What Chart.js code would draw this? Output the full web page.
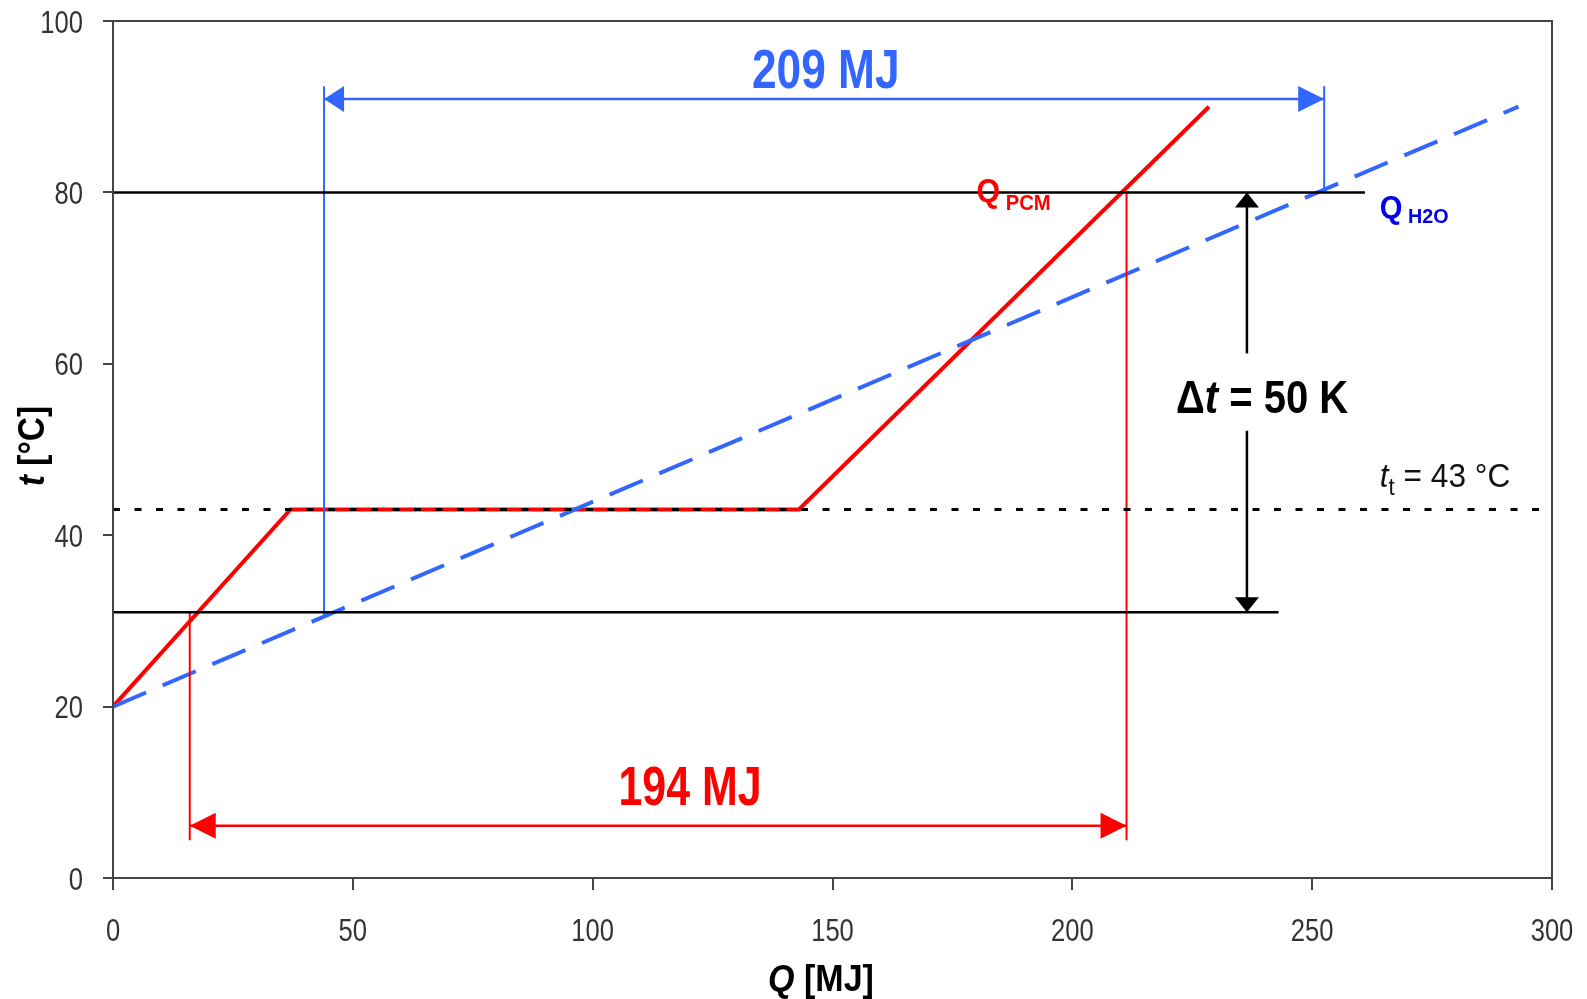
<!DOCTYPE html>
<html>
<head>
<meta charset="utf-8">
<script src="https://cdn.jsdelivr.net/npm/chart.js@4.4.0/dist/chart.umd.min.js"></script>
<style>
  html, body { margin: 0; padding: 0; background: #fff; }
</style>
</head>
<body>
<canvas id="chart" width="1587" height="999"></canvas>
<script>
// axis ticks
const xTicks = [0, 50, 100, 150, 200, 250, 300];
const yTicks = [0, 20, 40, 60, 80, 100];

// Q_PCM curve (Q in MJ, t in °C)
const pcmQ = [0, 37, 143, 228.5];
const pcmT = [20, 43, 43, 90];

// Q_H2O curve
const h2oQ = [0, 293];
const h2oT = [20, 90];

// reference temperatures
const tUpper = 80;
const tLower = 31;
const tTransition = 43;
const upperLineQ = [0, 261];
const lowerLineQ = [0, 243];

// energy spans
const pcmSpanQ = [16, 211.3];   // 194 MJ
const pcmSpanT = 6.1;
const pcmGuideBottom = 4.4;
const h2oSpanQ = [44, 252.5];   // 209 MJ
const h2oSpanT = 90.9;
const h2oGuideTop = 92.4;

// Δt arrow
const dtQ = 236.4;
const dtGap = [61.2, 52.2];

const RED = '#ff0000';
const BLUE = '#3366ff';
const DARKBLUE = '#0000ee';
const FONT = "'Liberation Sans', Arial, sans-serif";
const NARROW = 0.8; // horizontal squeeze to imitate Arial Narrow

const pts = (xs, ys) => xs.map((x, i) => ({ x: x, y: ys[i] }));
const seg = (x1, y1, x2, y2) => [{ x: x1, y: y1 }, { x: x2, y: y2 }];

function lineSet(data, color, width, dash) {
  return {
    data: data,
    borderColor: color,
    borderWidth: width,
    borderDash: dash || [],
    pointRadius: 0,
    fill: false,
    tension: 0,
    borderCapStyle: 'butt'
  };
}

const datasets = [
  lineSet(seg(0, tTransition, 300, tTransition), '#000', 3, [7, 14.5]),
  lineSet(seg(upperLineQ[0], tUpper, upperLineQ[1], tUpper), '#000', 2.5),
  lineSet(seg(lowerLineQ[0], tLower, lowerLineQ[1], tLower), '#000', 2.5),
  // red guides and span
  lineSet(seg(pcmSpanQ[0], tLower, pcmSpanQ[0], pcmGuideBottom), RED, 2),
  lineSet(seg(pcmSpanQ[1], tUpper, pcmSpanQ[1], pcmGuideBottom), RED, 2),
  lineSet(seg(pcmSpanQ[0], pcmSpanT, pcmSpanQ[1], pcmSpanT), RED, 2.5),
  // blue guides and span
  lineSet(seg(h2oSpanQ[0], 30.5, h2oSpanQ[0], h2oGuideTop), BLUE, 2),
  lineSet(seg(h2oSpanQ[1], tUpper, h2oSpanQ[1], h2oGuideTop), BLUE, 2),
  lineSet(seg(h2oSpanQ[0], h2oSpanT, h2oSpanQ[1], h2oSpanT), BLUE, 2.5),
  // Δt arrow shafts
  lineSet(seg(dtQ, tUpper, dtQ, dtGap[0]), '#000', 2.5),
  lineSet(seg(dtQ, dtGap[1], dtQ, tLower), '#000', 2.5),
  // curves
  lineSet(pts(h2oQ, h2oT), BLUE, 4, [36, 18]),
  lineSet(pts(pcmQ, pcmT), RED, 4)
];

function tri(ctx, x, y, dir, len, half, color) {
  ctx.save();
  ctx.fillStyle = color;
  ctx.beginPath();
  ctx.moveTo(x, y);
  if (dir === 'left') { ctx.lineTo(x + len, y - half); ctx.lineTo(x + len, y + half); }
  if (dir === 'right') { ctx.lineTo(x - len, y - half); ctx.lineTo(x - len, y + half); }
  if (dir === 'up') { ctx.lineTo(x - half, y + len); ctx.lineTo(x + half, y + len); }
  if (dir === 'down') { ctx.lineTo(x - half, y - len); ctx.lineTo(x + half, y - len); }
  ctx.closePath();
  ctx.fill();
  ctx.restore();
}

function runsWidth(ctx, pieces) {
  let w = 0;
  ctx.save();
  pieces.forEach(p => { ctx.font = p[1] + 'px ' + FONT; w += ctx.measureText(p[0]).width; });
  ctx.restore();
  return w;
}

// draws [text, font, dy] pieces one after another, squeezed horizontally
// align: 'left' | 'center' | 'right'
function runs(ctx, x, y, pieces, color, align, sx) {
  sx = sx || NARROW;
  const w = runsWidth(ctx, pieces) * sx;
  let x0 = x;
  if (align === 'center') x0 = x - w / 2;
  if (align === 'right') x0 = x - w;
  ctx.save();
  ctx.translate(x0, y);
  ctx.scale(sx, 1);
  ctx.fillStyle = color;
  ctx.textBaseline = 'alphabetic';
  ctx.textAlign = 'left';
  let cx = 0;
  pieces.forEach(p => {
    ctx.font = p[1] + 'px ' + FONT;
    ctx.fillText(p[0], cx, p[2] || 0);
    cx += ctx.measureText(p[0]).width;
  });
  ctx.restore();
}

const decor = {
  id: 'decor',
  afterDatasetsDraw(chart) {
    const ctx = chart.ctx;
    const xs = chart.scales.x, ys = chart.scales.y;
    const X = v => xs.getPixelForValue(v);
    const Y = v => ys.getPixelForValue(v);
    const a = chart.chartArea;

    // plot frame
    ctx.save();
    ctx.strokeStyle = '#444';
    ctx.lineWidth = 2;
    ctx.strokeRect(a.left, a.top, a.right - a.left, a.bottom - a.top);
    ctx.restore();

    // tick labels
    yTicks.forEach(v => runs(ctx, a.left - 30, Y(v) + 11.5, [[String(v), '32']], '#333', 'right'));
    xTicks.forEach(v => runs(ctx, X(v), a.bottom + 63, [[String(v), '32']], '#333', 'center'));

    // arrow heads
    tri(ctx, X(h2oSpanQ[0]), Y(h2oSpanT), 'left', 20, 13, BLUE);
    tri(ctx, X(h2oSpanQ[1]), Y(h2oSpanT), 'right', 26, 13, BLUE);
    tri(ctx, X(pcmSpanQ[0]), Y(pcmSpanT), 'left', 26, 13, RED);
    tri(ctx, X(pcmSpanQ[1]), Y(pcmSpanT), 'right', 26, 13, RED);
    tri(ctx, X(dtQ), Y(tUpper), 'up', 15, 12, '#000');
    tri(ctx, X(dtQ), Y(tLower), 'down', 15, 12, '#000');

    // span labels
    runs(ctx, X(148.6), Y(92.2), [['209 MJ', 'bold 56']], BLUE, 'center', 0.79);
    runs(ctx, X(120.3), Y(8.5), [['194 MJ', 'bold 55']], RED, 'center', 0.78);

    // Δt = 50 K
    runs(ctx, X(221.6), Y(54.3), [['Δ', 'bold 46'], ['t', 'italic bold 46'], [' = 50 K', 'bold 46']], '#000', 'left', 0.87);

    // curve labels
    runs(ctx, X(180.0), Y(78.9), [['Q', 'bold 33'], [' PCM', 'bold 22', 8]], RED, 'left', 0.92);
    runs(ctx, X(264.1), Y(77.0), [['Q', 'bold 31'], [' H2O', 'bold 21', 5]], DARKBLUE, 'left', 0.94);

    // transition temperature
    runs(ctx, X(264.1), Y(45.6), [['t', 'italic 34'], ['t', '24', 8], [' = 43 °C', '34']], '#111', 'left', 0.93);

    // axis titles
    runs(ctx, 821, 991, [['Q', 'italic bold 37'], [' [MJ]', 'bold 37']], '#000', 'center', 0.92);

    ctx.save();
    ctx.translate(44, 446);
    ctx.rotate(-Math.PI / 2);
    runs(ctx, 0, 0, [['t', 'italic bold 36'], [' [°C]', 'bold 36']], '#000', 'center', 0.93);
    ctx.restore();
  }
};

new Chart(document.getElementById('chart'), {
  type: 'line',
  data: { datasets: datasets },
  options: {
    responsive: false,
    animation: false,
    devicePixelRatio: 1,
    layout: { padding: { left: 0, top: 21, right: 35, bottom: 0 } },
    plugins: { legend: { display: false }, tooltip: { enabled: false } },
    scales: {
      x: {
        type: 'linear',
        min: 0, max: 300,
        afterBuildTicks: s => { s.ticks = xTicks.map(v => ({ value: v })); },
        afterFit: s => { s.height = 121; },
        grid: { drawOnChartArea: false, drawTicks: true, tickLength: 12, color: '#444', lineWidth: 2 },
        border: { display: true, color: '#444', width: 2 },
        ticks: { display: false }
      },
      y: {
        type: 'linear',
        min: 0, max: 100,
        afterBuildTicks: s => { s.ticks = yTicks.map(v => ({ value: v })); },
        afterFit: s => { s.width = 113; },
        grid: { drawOnChartArea: false, drawTicks: true, tickLength: 10, color: '#444', lineWidth: 2 },
        border: { display: true, color: '#444', width: 2 },
        ticks: { display: false }
      }
    }
  },
  plugins: [decor]
});
</script>
</body>
</html>
